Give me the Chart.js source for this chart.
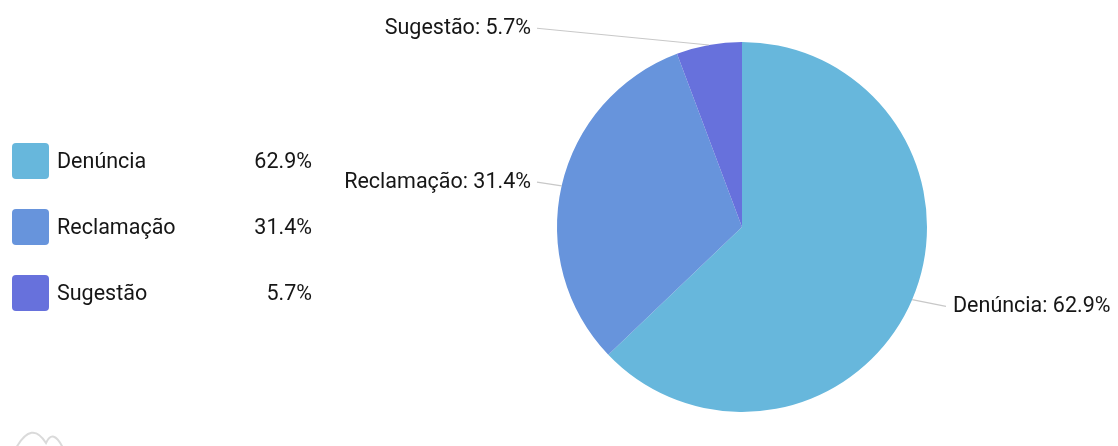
<!DOCTYPE html>
<html>
<head>
<meta charset="utf-8">
<script src="https://cdn.jsdelivr.net/npm/chart.js@4"></script>
<style>
  html, body { margin: 0; padding: 0; background: #fff; }
  #wrap { width: 1118px; height: 446px; position: relative; }
</style>
</head>
<body>
<div id="wrap"><canvas id="pieChart" width="1118" height="446"></canvas></div>
<script>
// chart data
const categories = ['Denúncia', 'Reclamação', 'Sugestão'];
const counts = [22, 11, 2];
const sliceColors = ['#67b7dc', '#6794dc', '#6771dc'];

const total = counts.reduce((a, b) => a + b, 0);
const pct = v => (v / total * 100).toFixed(1) + '%';
const FONT = '21.5px Roboto, "Noto Sans", sans-serif';

// legend on the left + outside labels with leader lines
const labelsPlugin = {
  id: 'outerLabels',
  afterDatasetsDraw(chart) {
    const ctx = chart.ctx;
    const meta = chart.getDatasetMeta(0);
    ctx.save();
    ctx.font = FONT;
    ctx.textBaseline = 'middle';

    // legend
    categories.forEach((name, i) => {
      const y = 161 + i * 66;
      ctx.fillStyle = sliceColors[i];
      ctx.beginPath();
      ctx.roundRect(12, y - 18, 37, 36, 4);
      ctx.fill();
      ctx.fillStyle = '#161616';
      ctx.textAlign = 'left';
      ctx.fillText(name, 57, y + 1.5);
      ctx.textAlign = 'right';
      ctx.fillText(pct(counts[i]), 312, y + 1.5);
    });

    // slice labels
    meta.data.forEach((arc, i) => {
      const mid = (arc.startAngle + arc.endAngle) / 2;
      const r = arc.outerRadius;
      const px = arc.x + Math.cos(mid) * r;
      const py = arc.y + Math.sin(mid) * r;
      const ly = arc.y + Math.sin(mid) * (r + 17);
      const right = Math.cos(mid) >= 0;
      const colX = right ? arc.x + r + 26 : arc.x - r - 26;
      const lineEnd = right ? colX - 7 : colX + 6;
      ctx.strokeStyle = '#c8c8c8';
      ctx.lineWidth = 1.2;
      ctx.beginPath();
      ctx.moveTo(px, py);
      ctx.lineTo(lineEnd, ly);
      ctx.stroke();
      ctx.fillStyle = '#161616';
      ctx.textAlign = right ? 'left' : 'right';
      ctx.fillText(categories[i] + ': ' + pct(counts[i]), colX, ly + 0.5);
    });

    // faint logo bottom-left
    ctx.strokeStyle = 'rgba(150,150,150,0.35)';
    ctx.lineWidth = 2;
    ctx.beginPath();
    ctx.moveTo(16, 448);
    ctx.quadraticCurveTo(32, 420, 46, 443);
    ctx.quadraticCurveTo(53, 428, 63, 448);
    ctx.stroke();
    ctx.restore();
  }
};

const ctx = document.getElementById('pieChart').getContext('2d');
new Chart(ctx, {
  type: 'pie',
  data: {
    labels: categories,
    datasets: [{
      data: counts,
      backgroundColor: sliceColors,
      borderWidth: 0
    }]
  },
  options: {
    responsive: false,
    animation: false,
    layout: {
      padding: { left: 557, right: 191, top: 42, bottom: 34 }
    },
    plugins: {
      legend: { display: false },
      tooltip: { enabled: false }
    }
  },
  plugins: [labelsPlugin]
});
</script>
</body>
</html>
